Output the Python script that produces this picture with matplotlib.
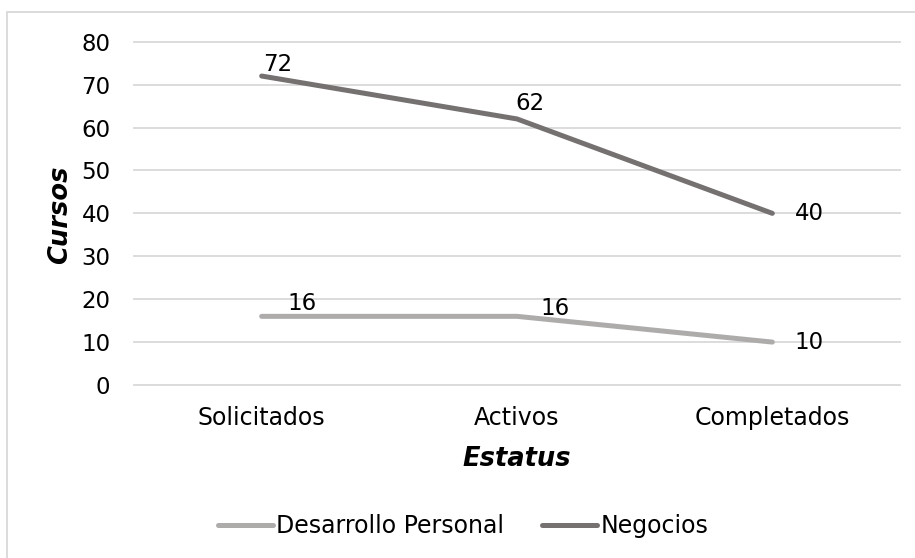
import matplotlib
matplotlib.use("Agg")
import matplotlib.pyplot as plt
from matplotlib.patches import Rectangle

categories = ["Solicitados", "Activos", "Completados"]
desarrollo = [16, 16, 10]
negocios = [72, 62, 40]
series_names = ["Desarrollo Personal", "Negocios"]
yticks = [0, 10, 20, 30, 40, 50, 60, 70, 80]

c_des = "#AEABAB"
c_neg = "#767171"

W, H = 915, 558
fig = plt.figure(figsize=(W / 100, H / 100), dpi=100)
plt.rcParams["font.family"] = ["DejaVu Sans"]

ax = fig.add_axes([134 / W, 1 - 385 / H, (900 - 134) / W, (385 - 41.7) / H])
x = [0, 1, 2]
ax.plot(x, desarrollo, color=c_des, lw=3.6, solid_capstyle="round", label=series_names[0], zorder=3)
ax.plot(x, negocios, color=c_neg, lw=3.6, solid_capstyle="round", label=series_names[1], zorder=3)
ax.set_xlim(-0.5, 2.5)
ax.set_ylim(0, 80)
ax.set_yticks(yticks)
ax.set_xticks(x)
ax.set_xticklabels(categories, fontsize=17)
ax.tick_params(axis="both", length=0, colors="black")
ax.tick_params(axis="y", pad=17, labelsize=16.5)
ax.tick_params(axis="x", pad=15)
ax.grid(axis="y", color="#D9D9D9", lw=1.3)
for gl in ax.get_ygridlines():
    gl.set_clip_on(False)
ax.set_axisbelow(True)
for s in ax.spines.values():
    s.set_visible(False)

# data labels (pixel offsets as in the reference)
offs_d = [(40, 13), (38, 8), (37, 0)]
offs_n = [(16, 12), (13, 15), (37, 0)]
for i, v in enumerate(desarrollo):
    ax.annotate(str(v), (x[i], v), xytext=offs_d[i], textcoords="offset pixels",
                ha="center", va="center", fontsize=16.5)
for i, v in enumerate(negocios):
    ax.annotate(str(v), (x[i], v), xytext=offs_n[i], textcoords="offset pixels",
                ha="center", va="center", fontsize=16.5)

fig.text(60 / W, 1 - 215 / H, "Cursos", rotation=90, ha="center", va="center",
         fontsize=18.5, fontweight="bold", fontstyle="italic")
fig.text(517 / W, 1 - 459 / H, "Estatus", ha="center", va="center",
         fontsize=18.5, fontweight="bold", fontstyle="italic")

fig.legend(loc="center", bbox_to_anchor=(463 / W, 1 - 526 / H), ncol=2, frameon=False,
           fontsize=17, handlelength=2.35, handletextpad=0.12, columnspacing=1.6)

fig.patches.append(Rectangle((7 / W, -0.05), 1.2, 1 - 12 / H + 0.05, transform=fig.transFigure,
                             fill=False, edgecolor="#D9D9D9", lw=1.3))

fig.savefig("out.png", dpi=100)
